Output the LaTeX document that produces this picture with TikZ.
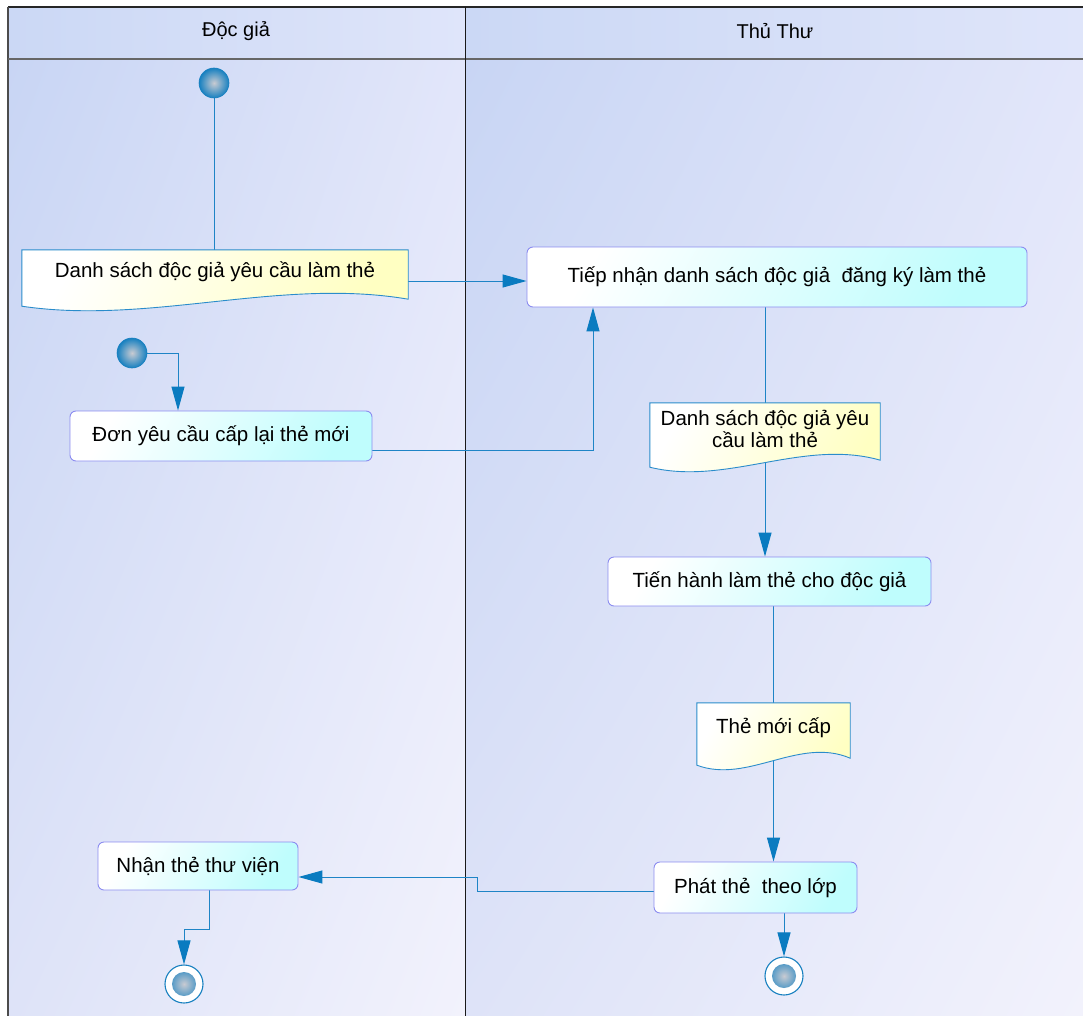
\documentclass[tikz,border=0pt]{standalone}
\usepackage{fontspec}
\setmainfont{Liberation Sans}
\usetikzlibrary{arrows.meta,calc,shadings}
\pgfdeclarelayer{bg}\pgfdeclarelayer{lines}\pgfdeclarelayer{docs}
\pgfsetlayers{bg,lines,docs,main}
\definecolor{conn}{HTML}{1E84C6}
\definecolor{tipc}{HTML}{0A7BC0}
\definecolor{actb}{HTML}{8C8CF0}
\definecolor{actc}{HTML}{BFFDFD}
\definecolor{docb}{HTML}{2A8CCB}
\definecolor{docc}{HTML}{FFFFC2}
\definecolor{ballc}{HTML}{1780C0}
\definecolor{ballin}{HTML}{C9CBD2}
\definecolor{hA}{RGB}{203,216,245}
\definecolor{hB}{RGB}{223,229,250}
\definecolor{lA}{RGB}{200,213,244}
\definecolor{lB}{RGB}{226,230,250}
\definecolor{lC}{RGB}{222,227,248}
\definecolor{lD}{RGB}{242,242,252}
\newcommand\docshape[1]{%
  \path[shade,left color=white,right color=docc,shading angle=60,draw=docb,line width=0.9pt]
    (#1.north west) -- ($(#1.south west)+(0,12)$)
    .. controls ($(#1.south west)!1/3!(#1.south east)+(0,31)$) and ($(#1.south west)!2/3!(#1.south east)+(0,-17)$)
    .. ($(#1.south east)+(0,5)$) -- (#1.north east) -- cycle;}
\begin{document}
\begin{tikzpicture}[x=1pt,y=-1pt,
  every node/.style={font=\fontsize{20.5}{22}\selectfont,text=black},
  hdr/.style={font=\fontsize{20}{22}\selectfont},
  act/.style={rectangle,rounded corners=6pt,draw=actb,line width=0.9pt,
    shade,left color=white,right color=actc,shading angle=60,inner sep=0pt},
  doctext/.style={rectangle,inner sep=0pt,align=center},
  startn/.style={circle,minimum size=30pt,inner sep=0pt,shade,inner color=ballin,outer color=ballc,draw=ballc,line width=0.6pt},
  endn/.style={circle,minimum size=38pt,inner sep=0pt,fill=white,draw=ballc,line width=1.1pt,
    path picture={\shade[inner color=ballin,outer color=ballc] (path picture bounding box.center) circle[radius=12pt];}},
  conn/.style={draw=conn,line width=1pt},
  arr/.style={conn,-{Triangle[length=24pt,width=13pt,fill=tipc,color=tipc]}}]
\useasboundingbox (0,0) rectangle (1083,1016);
% lanes
\begin{pgfonlayer}{bg}
\fill[white] (0,0) rectangle (1083,1016);
\shade[left color=hA,right color=hB] (8,7) rectangle (465,59);
\shade[left color=hA,right color=hB] (465,7) rectangle (1083,59);
\shade[upper left=lA,upper right=lB,lower left=lC,lower right=lD] (8,59) rectangle (465,1016);
\shade[upper left=lA,upper right=lB,lower left=lC,lower right=lD] (465,59) rectangle (1083,1016);
\draw[line width=1.6pt,black!85] (8,7) -- (1083,7);
\draw[line width=1.3pt,black!70] (8,7) -- (8,1016);
\draw[line width=2pt,black!60] (8,59) -- (1083,59);
\draw[line width=1pt,black!90] (465,7) -- (465,1016);
\end{pgfonlayer}
% headers
\node[hdr] (h1) at (236,31) {Độc giả};
\node[hdr] (h2) at (775,31) {Thủ Thư};
% nodes
\node[startn] (s1) at (214,83) {};
\node[startn] (s2) at (132,353) {};
\node[doctext,minimum width=386pt,minimum height=44pt] (d1) at (215,272) {Danh sách độc giả yêu cầu làm thẻ};
\node[act,minimum width=500pt,minimum height=60pt] (a1) at (777,277) {Tiếp nhận danh sách độc giả\ \ đăng ký làm thẻ};
\node[act,minimum width=302pt,minimum height=50pt] (a2) at (221,436) {Đơn yêu cầu cấp lại thẻ mới};
\node[doctext,minimum width=230pt,minimum height=52pt] (d2) at (765,429) {Danh sách độc giả yêu\\cầu làm thẻ};
\node[act,minimum width=323pt,minimum height=49pt] (a3) at (769.5,581.5) {Tiến hành làm thẻ cho độc giả};
\node[doctext,minimum width=153pt,minimum height=50pt] (d3) at (773.5,728) {Thẻ mới cấp};
\node[act,minimum width=203pt,minimum height=51pt] (a4) at (755.5,887.5) {Phát thẻ\ \ theo lớp};
\node[act,minimum width=200pt,minimum height=48pt] (a5) at (198,866) {Nhận thẻ thư viện};
\node[endn] (e1) at (184,984) {};
\node[endn] (e2) at (784,976) {};
\begin{pgfonlayer}{docs}
\docshape{d1}
\docshape{d2}
\docshape{d3}
\end{pgfonlayer}
% connectors
\begin{pgfonlayer}{lines}
\draw[conn] (s1.south) -- (s1.south |- d1.north);
\draw[arr] ([yshift=-9pt]d1.east) -- ([yshift=-9pt]d1.east -| a1.west);
\draw[arr] (s2.east) -| ([xshift=-43pt]a2.north);
\draw[arr] ([yshift=-14pt]a2.east) -| ([xshift=-184pt]a1.south);
\draw[conn] (a1.south -| d2.north) -- (d2.north);
\draw[arr] (d2.south) -- (d2.south |- a3.north);
\draw[conn] (a3.south -| d3.north) -- (d3.north);
\draw[arr] (d3.south) -- (d3.south |- a4.north);
\draw[arr] (a4.south -| e2.north) -- (e2.north);
\draw[arr] ([yshift=-4pt]a4.west) -- ++(-176,0) |- ([yshift=-11pt]a5.east);
\draw[arr] ([xshift=11pt]a5.south) -- ++(0,39) -| (e1.north);
\end{pgfonlayer}
\end{tikzpicture}
\end{document}
